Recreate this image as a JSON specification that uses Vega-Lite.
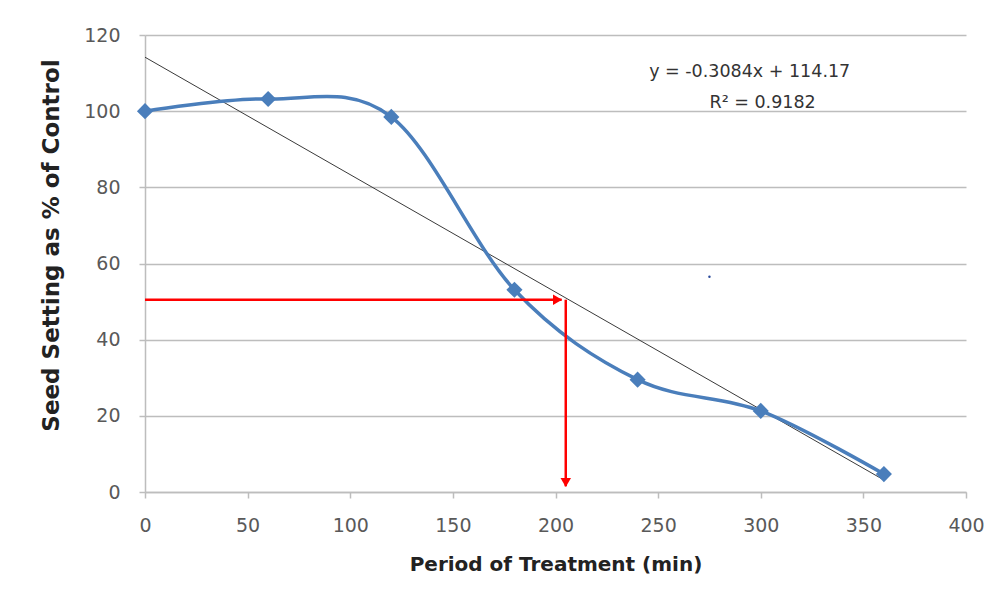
{
  "$schema": "https://vega.github.io/schema/vega-lite/v6.json",
  "autosize": "none",
  "width": 821,
  "height": 457,
  "padding": {"left": 145, "top": 35, "right": 37, "bottom": 117},
  "background": "white",
  "config": {
    "view": {"stroke": null},
    "font": "DejaVu Sans",
    "axis": {
      "labelFont": "DejaVu Sans",
      "titleFont": "DejaVu Sans",
      "labelFontSize": 19,
      "labelColor": "#595959",
      "titleColor": "#222222",
      "titleFontSize": 20,
      "titleFontWeight": "bold",
      "gridColor": "#bdbdbd",
      "gridWidth": 1.5,
      "domainColor": "#bdbdbd",
      "domainWidth": 1.5,
      "tickColor": "#bdbdbd",
      "tickWidth": 1.5,
      "labelFlush": false
    }
  },
  "datasets": {
    "obs": [
      {"t": 0, "s": 100},
      {"t": 60, "s": 103.2},
      {"t": 120, "s": 98.5},
      {"t": 180, "s": 53.1},
      {"t": 240, "s": 29.5},
      {"t": 300, "s": 21.3},
      {"t": 360, "s": 4.7}
    ],
    "trend": [
      {"t": 0, "s": 114.17},
      {"t": 360, "s": 3.15}
    ],
    "harrow": [
      {"t": 0, "s": 50.5},
      {"t": 203, "s": 50.5}
    ],
    "varrow": [
      {"t": 205, "s": 50.5},
      {"t": 205, "s": 1.5}
    ],
    "heads": [
      {"t": 201, "s": 50.5, "shape": "triangle-right"},
      {"t": 205, "s": 2.5, "shape": "triangle-down"}
    ],
    "labels": [
      {"t": 294.6, "s": 110.3, "txt": "y = -0.3084x + 114.17"},
      {"t": 300.9, "s": 102.2, "txt": "R² = 0.9182"}
    ],
    "dot": [{"t": 275, "s": 56.5}]
  },
  "encoding": {
    "x": {
      "field": "t", "type": "quantitative",
      "scale": {"domain": [0, 400], "nice": false},
      "axis": {
        "title": "Period of Treatment (min)",
        "values": [0, 50, 100, 150, 200, 250, 300, 350, 400],
        "grid": false,
        "tickSize": 6,
        "labelPadding": 18,
        "titlePadding": 19
      }
    },
    "y": {
      "field": "s", "type": "quantitative",
      "scale": {"domain": [0, 120], "nice": false},
      "axis": {
        "title": "Seed Setting as % of Control",
        "titleFontSize": 23,
        "titleY": 210,
        "values": [0, 20, 40, 60, 80, 100, 120],
        "grid": true,
        "tickSize": 6,
        "labelPadding": 19,
        "titlePadding": 20
      }
    }
  },
  "layer": [
    {
      "data": {"name": "trend"},
      "mark": {"type": "line", "color": "#3a3a3a", "strokeWidth": 1}
    },
    {
      "data": {"name": "obs"},
      "mark": {"type": "line", "interpolate": "cardinal", "tension": 0, "color": "#4a7ebb", "strokeWidth": 3.5}
    },
    {
      "data": {"name": "obs"},
      "mark": {"type": "point", "shape": "diamond", "filled": true, "opacity": 1, "size": 260, "color": "#4a7ebb"}
    },
    {
      "data": {"name": "harrow"},
      "mark": {"type": "line", "color": "#ff0000", "strokeWidth": 2.5}
    },
    {
      "data": {"name": "varrow"},
      "mark": {"type": "line", "color": "#ff0000", "strokeWidth": 2.5}
    },
    {
      "data": {"name": "heads"},
      "mark": {"type": "point", "filled": true, "opacity": 1, "size": 110, "color": "#ff0000"},
      "encoding": {"shape": {"field": "shape", "type": "nominal", "scale": null}}
    },
    {
      "data": {"name": "dot"},
      "mark": {"type": "point", "filled": true, "opacity": 1, "size": 6, "color": "#2a4a9b"}
    },
    {
      "data": {"name": "labels"},
      "mark": {"type": "text", "font": "DejaVu Sans", "fontSize": 17.5, "color": "#333333", "align": "center", "baseline": "middle"},
      "encoding": {"text": {"field": "txt"}}
    }
  ]
}
